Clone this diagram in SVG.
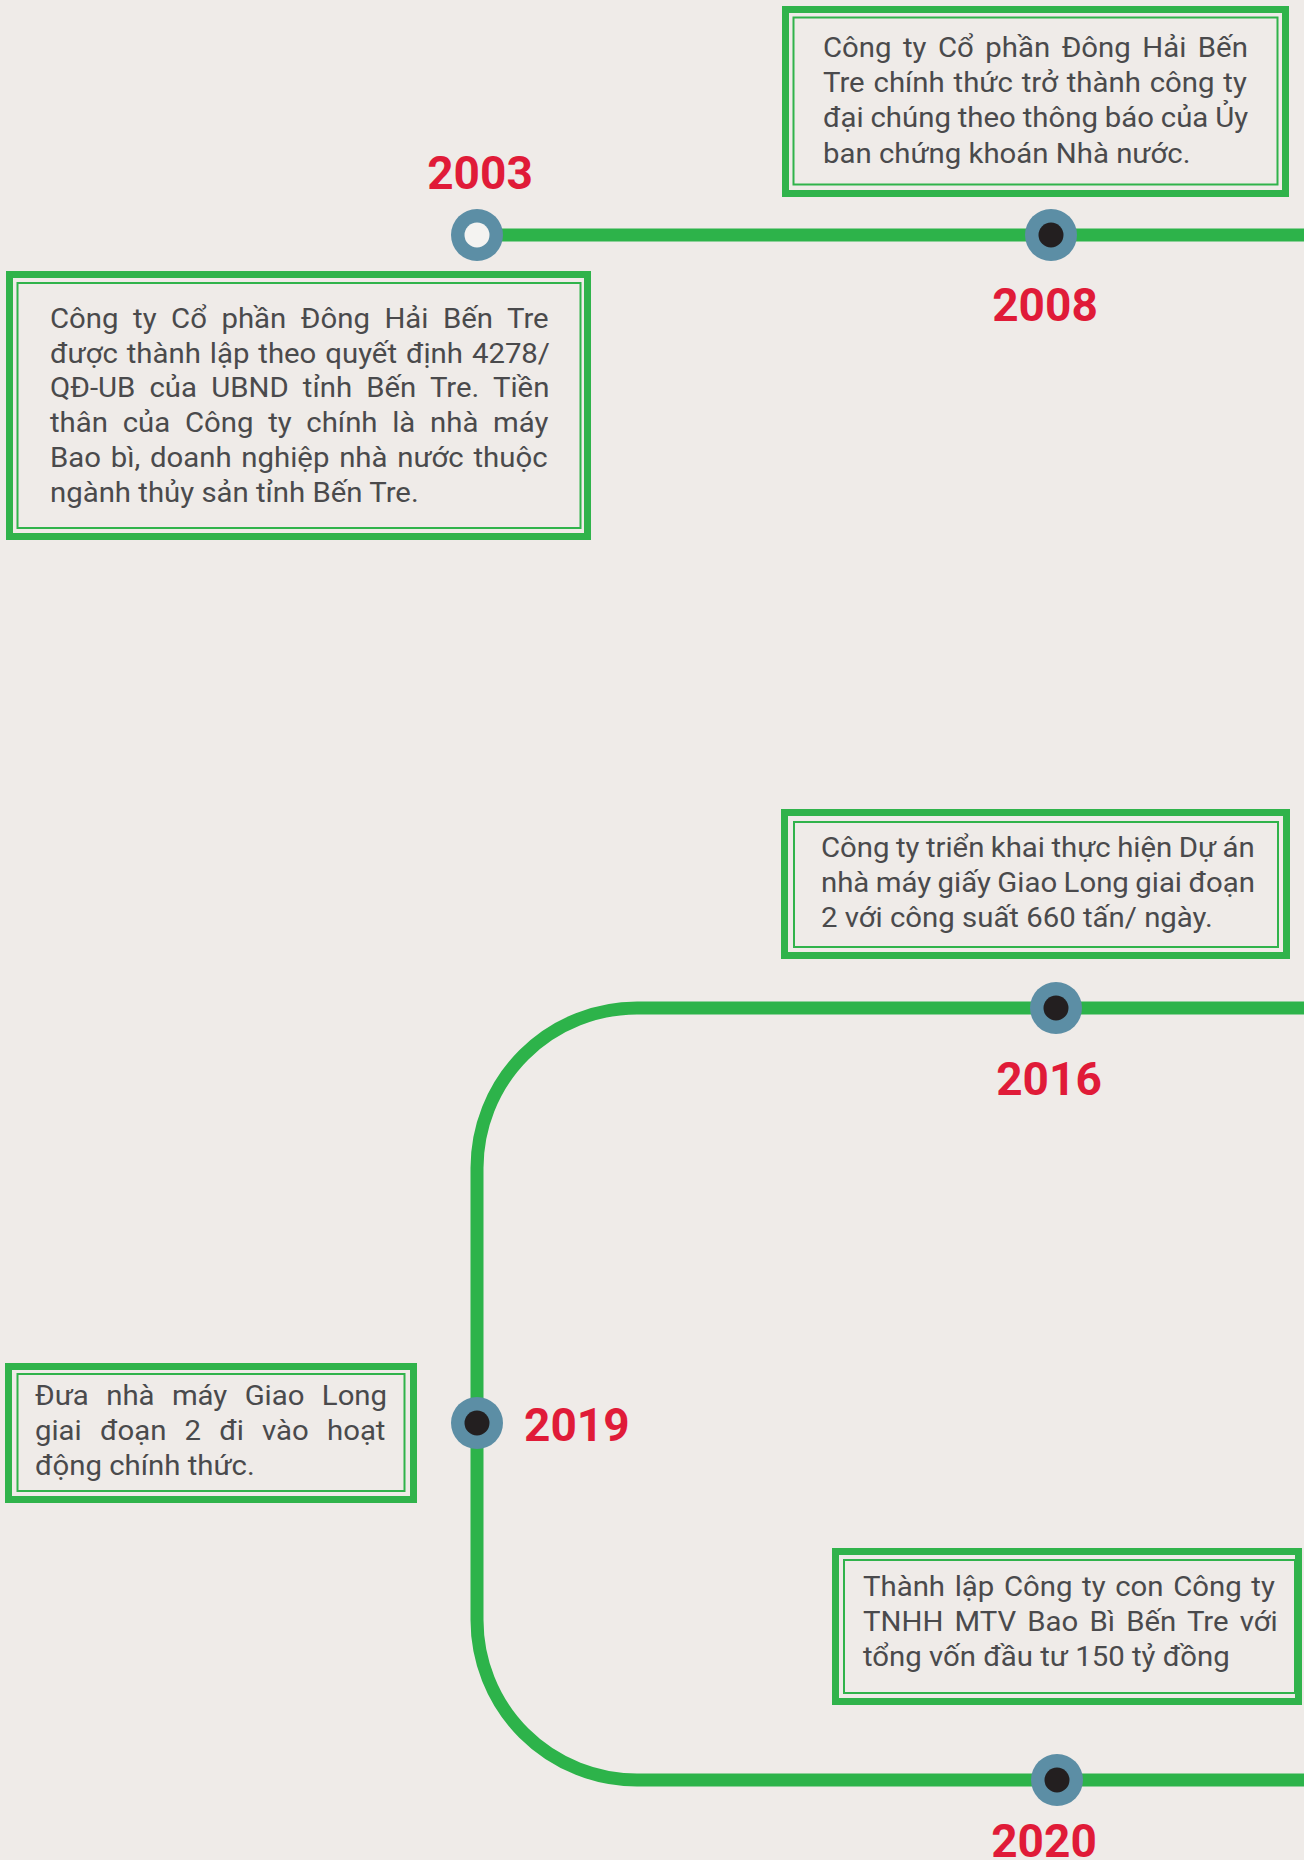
<svg xmlns="http://www.w3.org/2000/svg" width="1304" height="1860" viewBox="0 0 1304 1860">
<style>
.bg{fill:#efebe8}
.conn{fill:none;stroke:#2db34a;stroke-width:13}
.bo{fill:none;stroke:#30b34b;stroke-width:7}
.bi{fill:none;stroke:#30b34b;stroke-width:2}
.body{font-family:Roboto,"Liberation Sans",sans-serif;font-size:28.5px;fill:#4a4a4c}
.year{font-family:Roboto,"Liberation Sans",sans-serif;font-size:46px;font-weight:bold;fill:#e01b38}
.ring{fill:#5c8ea5}
.dot{fill:#231f20}
.hole{fill:#f4f3f1}
</style>
<rect class="bg" x="0" y="0" width="1304" height="1860"/>
<g id="connectors">
<path class="conn" d="M477,235 H1304"/>
<path class="conn" d="M1304,1008 H637 A160,160 0 0 0 477,1168 V1620 A160,160 0 0 0 637,1780 H1304"/>
</g>
<g id="node-2003">
<circle class="ring" cx="477" cy="235" r="26"/>
<circle class="hole" cx="477" cy="235" r="12.5"/>
<text class="year" x="480" y="189" text-anchor="middle">2003</text>
<rect class="bo" x="9.5" y="274.5" width="578" height="262"/>
<rect class="bi" x="17.5" y="283" width="563" height="245"/>
<g transform="translate(50,0) scale(1.03,1)">
<text class="body" x="0" y="328" word-spacing="7.04">Công ty Cổ phần Đông Hải Bến Tre</text>
<text class="body" x="0" y="363" word-spacing="1.6">được thành lập theo quyết định 4278/</text>
<text class="body" x="0" y="397" word-spacing="6.7">QĐ-UB của UBND tỉnh Bến Tre. Tiền</text>
<text class="body" x="0" y="432" word-spacing="7.23">thân của Công ty chính là nhà máy</text>
<text class="body" x="0" y="467" word-spacing="2.4">Bao bì, doanh nghiệp nhà nước thuộc</text>
<text class="body" x="0" y="502">ngành thủy sản tỉnh Bến Tre.</text>
</g>
</g>
<g id="node-2008">
<circle class="ring" cx="1051" cy="235" r="26"/>
<circle class="dot" cx="1051" cy="235" r="12.5"/>
<text class="year" x="1045" y="321" text-anchor="middle">2008</text>
<rect class="bo" x="785.5" y="9.5" width="500" height="184"/>
<rect class="bi" x="793.5" y="17.5" width="484" height="167"/>
<g transform="translate(823,0) scale(1.03,1)">
<text class="body" x="0" y="57" word-spacing="4.1">Công ty Cổ phần Đông Hải Bến</text>
<text class="body" x="0" y="92" word-spacing="1.56">Tre chính thức trở thành công ty</text>
<text class="body" x="0" y="127" word-spacing="-0.4">đại chúng theo thông báo của Ủy</text>
<text class="body" x="0" y="163">ban chứng khoán Nhà nước.</text>
</g>
</g>
<g id="node-2016">
<circle class="ring" cx="1056" cy="1008" r="26"/>
<circle class="dot" cx="1056" cy="1008" r="12.5"/>
<text class="year" x="1049" y="1095" text-anchor="middle">2016</text>
<rect class="bo" x="784.5" y="812.5" width="502" height="143"/>
<rect class="bi" x="794" y="822" width="484" height="125"/>
<g transform="translate(821,0) scale(1.03,1)">
<text class="body" x="0" y="857" word-spacing="-0.8">Công ty triển khai thực hiện Dự án</text>
<text class="body" x="0" y="892" word-spacing="-0.8">nhà máy giấy Giao Long giai đoạn</text>
<text class="body" x="0" y="927">2 với công suất 660 tấn/ ngày.</text>
</g>
</g>
<g id="node-2019">
<circle class="ring" cx="477" cy="1423" r="26"/>
<circle class="dot" cx="477" cy="1423" r="12.5"/>
<text class="year" x="524" y="1441">2019</text>
<rect class="bo" x="8.5" y="1366.5" width="405" height="133"/>
<rect class="bi" x="17.5" y="1374" width="387" height="117"/>
<g transform="translate(35,0) scale(1.03,1)">
<text class="body" x="0" y="1405" word-spacing="9.8">Đưa nhà máy Giao Long</text>
<text class="body" x="0" y="1440" word-spacing="10.6">giai đoạn 2 đi vào hoạt</text>
<text class="body" x="0" y="1475">động chính thức.</text>
</g>
</g>
<g id="node-2020">
<circle class="ring" cx="1057" cy="1780" r="26"/>
<circle class="dot" cx="1057" cy="1780" r="12.5"/>
<text class="year" x="1044" y="1857" text-anchor="middle">2020</text>
<rect class="bo" x="835.5" y="1551.5" width="463" height="150"/>
<rect class="bi" x="844" y="1560" width="451" height="133"/>
<g transform="translate(863,0) scale(1.03,1)">
<text class="body" x="0" y="1596" word-spacing="2.3">Thành lập Công ty con Công ty</text>
<text class="body" x="0" y="1631" word-spacing="3.8">TNHH MTV Bao Bì Bến Tre với</text>
<text class="body" x="0" y="1666">tổng vốn đầu tư 150 tỷ đồng</text>
</g>
</g>
</svg>
